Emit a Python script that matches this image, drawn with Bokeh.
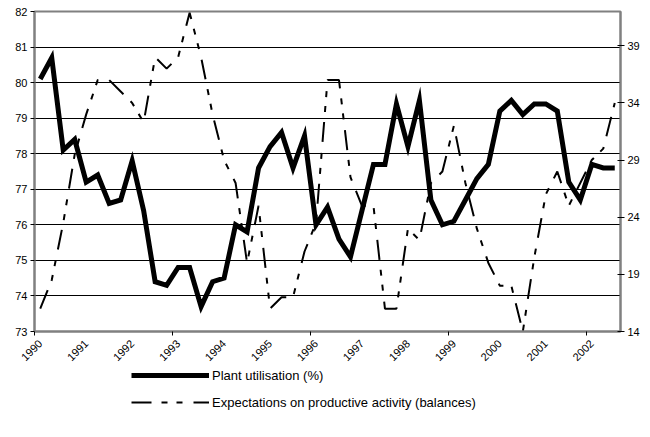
from bokeh.plotting import figure
from bokeh.models import Range1d, LinearAxis, FixedTicker, Legend, LegendItem, ColumnDataSource
from bokeh.layouts import column
from bokeh.embed import file_html
from bokeh.resources import INLINE
from math import pi

years = ["1990", "1991", "1992", "1993", "1994", "1995", "1996",
         "1997", "1998", "1999", "2000", "2001", "2002"]
quarters = [f"{y}Q{q}" for y in years for q in (1, 2, 3, 4)][:51]

plant_utilisation = [80.1, 80.7, 78.1, 78.4, 77.2, 77.4, 76.6, 76.7, 77.8, 76.4,
                     74.4, 74.3, 74.8, 74.8, 73.7, 74.4, 74.5, 76.0, 75.8, 77.6,
                     78.2, 78.6, 77.6, 78.5, 76.0, 76.5, 75.6, 75.1, 76.4, 77.7,
                     77.7, 79.4, 78.2, 79.5, 76.7, 76.0, 76.1, 76.7, 77.3, 77.7,
                     79.2, 79.5, 79.1, 79.4, 79.4, 79.2, 77.2, 76.7, 77.7, 77.6,
                     77.6]
expectations = [16, 18.5, 23.5, 29.5, 33, 36, 36, 35, 34, 32.3,
                38, 37, 38, 41.9, 38, 33, 29, 27, 20, 25,
                16, 17, 17, 21, 23.5, 36, 36, 27.5, 25, 25,
                16, 16, 23, 22, 27, 28, 32, 27, 23, 20,
                18, 18, 14, 20.5, 26, 28, 25, 27, 29, 30,
                34]
series_names = ["Plant utilisation (%)", "Expectations on productive activity (balances)"]

left_ticks = [73, 74, 75, 76, 77, 78, 79, 80, 81, 82]
right_ticks = [14, 19, 24, 29, 34, 39]

n = len(quarters)
xpos = [i + 0.5 for i in range(n)]
src = ColumnDataSource(dict(x=xpos, q=quarters, pu=plant_utilisation, ex=expectations))

FONT = "Liberation Sans"
DASH = "20 10 6 9 6 11"
LABEL_SHIFT = 0.6  # Excel-style label anchoring (labels sit slightly left of the category centre)

p = figure(width=650, height=367, output_backend="svg", toolbar_location=None,
           x_axis_location=None,
           x_range=Range1d(0, n), y_range=Range1d(73, 82),
           min_border_left=34, min_border_right=30, min_border_top=11, min_border_bottom=30)
p.extra_y_ranges = {"right": Range1d(14, 42)}
p.extra_x_ranges = {"lab": Range1d(LABEL_SHIFT, n + LABEL_SHIFT)}
p.background_fill_color = "white"
p.border_fill_color = "white"
p.outline_line_color = "#808080"
p.outline_line_width = 2

# x axis on the shifted range: labels every 4 quarters, tick marks every 12 quarters
xa = LinearAxis(x_range_name="lab")
label_ticks = [xpos[i] + LABEL_SHIFT for i in range(0, n, 4)]
xa.ticker = FixedTicker(ticks=label_ticks, minor_ticks=[b + LABEL_SHIFT for b in range(0, n, 12)])
xa.major_label_overrides = {t: years[k] for k, t in enumerate(label_ticks)}
xa.major_label_orientation = pi / 4
xa.major_tick_line_color = None
xa.minor_tick_line_color = "#000000"
xa.minor_tick_in = 0
xa.minor_tick_out = 4
xa.axis_line_color = "#808080"
xa.axis_line_width = 2
xa.major_label_text_font = FONT
xa.major_label_text_font_size = "11px"
xa.major_label_text_color = "black"
xa.major_label_standoff = 4
p.add_layout(xa, "below")

# left axis
p.yaxis.ticker = FixedTicker(ticks=left_ticks)
p.yaxis.minor_tick_line_color = None
p.yaxis.major_tick_in = 0
p.yaxis.major_tick_out = 4
p.yaxis.axis_line_color = "#808080"
p.yaxis.axis_line_width = 2
p.yaxis.major_label_text_font = FONT
p.yaxis.major_label_text_font_size = "11px"
p.yaxis.major_label_text_color = "black"
p.yaxis.major_label_standoff = 3

# right axis
ra = LinearAxis(y_range_name="right", ticker=FixedTicker(ticks=right_ticks))
ra.minor_tick_line_color = None
ra.major_tick_in = 3
ra.major_tick_out = 4
ra.axis_line_color = "#808080"
ra.axis_line_width = 2
ra.major_label_text_font = FONT
ra.major_label_text_font_size = "11px"
ra.major_label_text_color = "black"
ra.major_label_standoff = 3
p.add_layout(ra, "right")

p.xgrid.grid_line_color = None
p.ygrid.ticker = FixedTicker(ticks=left_ticks)
p.ygrid.grid_line_color = "#000000"
p.ygrid.grid_line_width = 1

p.line("x", "pu", source=src, line_color="black", line_width=5, line_join="miter")
p.line("x", "ex", source=src, y_range_name="right", line_color="black",
       line_width=2, line_dash=DASH)

# legend strip below the chart (its sample renderers hold the data but lie outside the view)
lf = figure(width=650, height=70, output_backend="svg", toolbar_location=None,
            x_axis_type=None, y_axis_type=None,
            x_range=Range1d(-2, -1), y_range=Range1d(0, 1),
            min_border_left=0, min_border_right=0, min_border_top=0, min_border_bottom=0)
lf.grid.grid_line_color = None
lf.outline_line_color = None
lf.background_fill_color = "white"
lf.border_fill_color = "white"
g1 = lf.line("x", "pu", source=src, line_color="black", line_width=5)
g2 = lf.line("x", "ex", source=src, line_color="black", line_width=2, line_dash=DASH)

legend = Legend(items=[LegendItem(label=series_names[0], renderers=[g1]),
                       LegendItem(label=series_names[1], renderers=[g2])],
                location=(97, 27), orientation="vertical")
legend.glyph_width = 78
legend.glyph_height = 16
legend.label_height = 16
legend.label_standoff = 3
legend.spacing = 11
legend.padding = 0
legend.margin = 0
legend.border_line_color = None
legend.background_fill_alpha = 0
legend.label_text_font = FONT
legend.label_text_font_size = "13px"
legend.label_text_color = "black"
lf.add_layout(legend, "center")

open("out.html", "w").write(file_html(column(p, lf, spacing=0), INLINE))
